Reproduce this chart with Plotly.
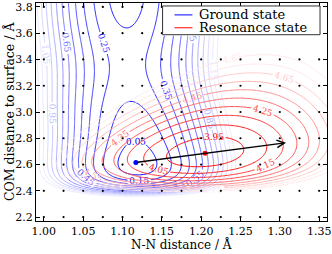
import numpy as np
import plotly.graph_objects as go

# ---------------- values ----------------
x_ticks = [1.00, 1.05, 1.10, 1.15, 1.20, 1.25, 1.30, 1.35]
y_ticks = [2.2, 2.4, 2.6, 2.8, 3.0, 3.2, 3.4, 3.6, 3.8]
x_range = [0.99, 1.36]
y_range = [2.17, 3.83]

# sampled grid points (black dots)
grid_x = [1.000, 1.025, 1.050, 1.075, 1.100, 1.125, 1.150, 1.175,
          1.200, 1.225, 1.250, 1.275, 1.300, 1.325, 1.350]
grid_y = [2.2, 2.4, 2.6, 2.8, 3.0, 3.2, 3.4, 3.6, 3.8]

# ground state surface (minimum, contour levels, shape parameters)
ground_min = [1.117, 2.615]
ground_levels = [0.05, 0.15, 0.25, 0.35, 0.45, 0.55, 0.65, 0.75,
                 0.85, 0.95, 1.05, 1.15, 1.25]
g_k = 160.0          # N-N curvature
g_x_far = 1.105      # N-N equilibrium far from surface
g_x_shift = 0.015    # N-N elongation near surface
g_D, g_b, g_y0 = 0.10, 6.0, 2.61      # Morse along surface normal
g_B, g_yb, g_wb = 0.11, 3.34, 0.34    # small barrier

# resonance state surface
res_min = [1.205, 2.685]
res_levels = [3.95, 4.05, 4.15, 4.25, 4.35, 4.45, 4.55, 4.65, 4.75, 4.85]
r_E0 = 3.885
r_k = 57.0
r_D, r_b = 2.0, 1.5          # Morse along surface normal
r_W, r_c = 0.005, 15.0       # extra repulsive wall
r_tilt = 0.10

arrow_end = [1.308, 2.766]

# ---------------- layout geometry ----------------
L, R, T, B = 36, 4, 1, 33
W, H = 332, 254
pw, ph = W - L - R, H - T - B

def px(xp):
    return (xp - L) / pw

def py(yp):
    return (H - B - yp) / ph

leg_box = [163, 321, 4, 33]   # pixel box of the legend

# ---------------- surfaces ----------------
xs = np.linspace(x_range[0], x_range[1], 240)
ys = np.linspace(y_range[0], y_range[1], 240)
X, Y = np.meshgrid(xs, ys)

x0g = g_x_far + g_x_shift / (1 + np.exp((Y - 3.0) / 0.15))
Fg = g_D * (1 - np.exp(-g_b * (Y - g_y0))) ** 2 + g_B * np.exp(-((Y - g_yb) / g_wb) ** 2)
Zg = Fg + 0.5 * g_k * (X - x0g) ** 2

dy = Y - res_min[1]
xc = res_min[0] + r_tilt * dy
Zr = (r_E0 + r_D * (1 - np.exp(-r_b * dy)) ** 2
      + r_W * (np.exp(-r_c * dy) - 1 + r_c * dy)
      + 0.5 * r_k * (X - xc) ** 2)

# the part hidden by the legend box is left blank
lx0 = x_range[0] + (leg_box[0] - L) / pw * (x_range[1] - x_range[0])
ly0 = y_range[0] + (H - B - leg_box[3] - 1) / ph * (y_range[1] - y_range[0])
under_legend = (X > lx0) & (Y > ly0)
Zg = np.where(under_legend, np.nan, Zg)
Zr = np.where(under_legend, np.nan, Zr)

FONT = "DejaVu Serif"
fig = go.Figure()

blue_scale = [[0, "rgb(0,0,255)"], [0.45, "rgb(90,90,255)"], [0.75, "rgb(175,175,255)"],
              [1, "rgb(232,232,255)"]]
red_scale = [[0, "rgb(255,0,0)"], [0.45, "rgb(255,90,90)"], [0.75, "rgb(255,175,175)"],
             [1, "rgb(255,232,232)"]]

for z, levels, scale, name in [(Zg, ground_levels, blue_scale, "Ground state"),
                               (Zr, res_levels, red_scale, "Resonance state")]:
    fig.add_trace(go.Contour(
        x=xs, y=ys, z=z, name=name, showlegend=False, showscale=False,
        zmin=levels[0], zmax=levels[-1], autocontour=False,
        contours=dict(start=levels[0], end=levels[-1],
                      size=round(levels[1] - levels[0], 2),
                      coloring="lines", showlabels=True,
                      labelfont=dict(family=FONT, size=9), labelformat=".2f"),
        colorscale=scale, line=dict(width=1), hoverinfo="skip"))

gx, gy = np.meshgrid(grid_x, grid_y)
fig.add_trace(go.Scatter(x=gx.ravel(), y=gy.ravel(), mode="markers",
                         marker=dict(color="black", size=2.2),
                         showlegend=False, hoverinfo="skip"))

fig.add_trace(go.Scatter(x=[ground_min[0]], y=[ground_min[1]], mode="markers",
                         marker=dict(color="blue", size=5), showlegend=False))
fig.add_trace(go.Scatter(x=[res_min[0]], y=[res_min[1]], mode="markers",
                         marker=dict(color="red", size=5), showlegend=False))

fig.add_annotation(x=arrow_end[0], y=arrow_end[1], ax=ground_min[0], ay=ground_min[1],
                   xref="x", yref="y", axref="x", ayref="y", text="",
                   showarrow=True, arrowhead=5, arrowsize=1, arrowwidth=1.5,
                   arrowcolor="black", standoff=0, startstandoff=0)

axis_common = dict(showgrid=False, zeroline=False, showline=True, linecolor="black",
                   linewidth=1, mirror="allticks", ticks="inside", ticklen=4,
                   tickcolor="black", ticklabeloverflow="allow",
                   tickfont=dict(family=FONT, size=11, color="black"))

fig.update_layout(
    width=W, height=H, margin=dict(l=L, r=R, t=T, b=B),
    plot_bgcolor="white", paper_bgcolor="white",
    xaxis=dict(range=x_range, tickvals=x_ticks, ticktext=[f"{v:.2f}" for v in x_ticks],
               **axis_common),
    yaxis=dict(range=y_range, tickvals=y_ticks, ticktext=[f"{v:.1f}" for v in y_ticks],
               **axis_common),
    showlegend=False,
)

# axis titles
fig.add_annotation(text="N-N distance / Å", x=0.5, y=py(253.5), xref="paper", yref="paper",
                   showarrow=False, font=dict(family=FONT, size=12, color="black"),
                   xanchor="center", yanchor="bottom", borderpad=0)
fig.add_annotation(text="COM distance to surface / Å", x=px(9), y=0.5, xref="paper",
                   yref="paper", showarrow=False, textangle=-90,
                   font=dict(family=FONT, size=12.5, color="black"),
                   xanchor="center", yanchor="middle")

# legend box
fig.add_shape(type="rect", xref="paper", yref="paper", x0=px(leg_box[0]), x1=px(leg_box[1]),
              y0=py(leg_box[3]), y1=py(leg_box[2]), line=dict(color="#333333", width=1),
              fillcolor="white")
for name, col, yy in [("Ground state", "blue", 13), ("Resonance state", "red", 26)]:
    fig.add_shape(type="line", xref="paper", yref="paper", x0=px(175), x1=px(193),
                  y0=py(yy), y1=py(yy), line=dict(color=col, width=1))
    fig.add_annotation(text=name, x=px(198), y=py(yy), xref="paper", yref="paper",
                       showarrow=False, xanchor="left", yanchor="middle",
                       font=dict(family=FONT, size=13, color="black"))

fig.write_html("out.html", config={"displayModeBar": False},
               post_script="document.body.style.margin='0';")
